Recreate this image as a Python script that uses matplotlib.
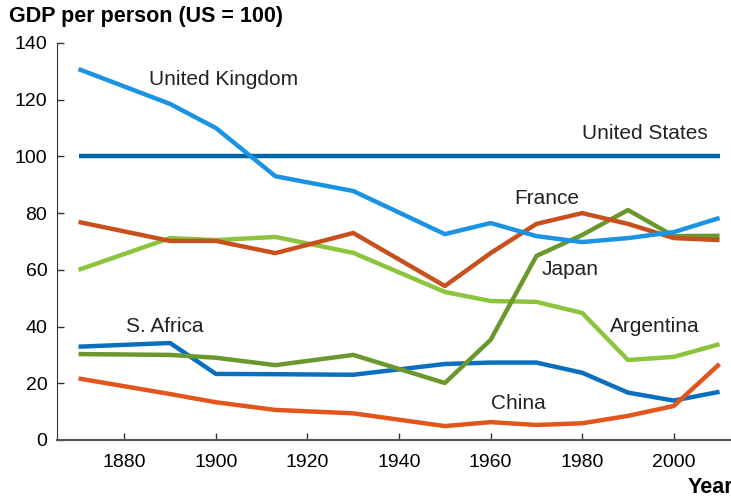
import matplotlib.pyplot as plt

plt.rcParams['font.family'] = ['Liberation Sans', 'DejaVu Sans']

years = [1870, 1890, 1900, 1913, 1930, 1950, 1960, 1970, 1980, 1990, 2000, 2010]
uk = [130.8, 118.5, 110.0, 93.0, 87.8, 72.6, 76.5, 71.9, 69.8, 71.2, 73.3, 78.3]
us = [100] * len(years)
france = [76.9, 70.2, 70.2, 65.9, 73.0, 54.3, 65.9, 76.2, 80.0, 76.2, 71.2, 70.5]
japan = [30.3, 30.0, 29.0, 26.4, 30.0, 20.1, 35.3, 64.9, 72.3, 81.1, 71.9, 72.0]
argentina = [60.0, 71.2, 70.5, 71.6, 66.0, 52.2, 49.0, 48.7, 44.8, 28.2, 29.3, 33.8]
s_africa = [32.9, 34.2, 23.3, 23.2, 23.0, 26.8, 27.3, 27.3, 23.7, 16.7, 13.9, 17.0]
china = [21.7, 16.2, 13.3, 10.6, 9.4, 4.9, 6.3, 5.3, 5.9, 8.5, 12.0, 26.8]

series = [
    ("S. Africa", s_africa, "#0a70bd", (1888.9, 40)),
    ("China", china, "#e2561c", (1966, 12.7)),
    ("Argentina", argentina, "#8cc43e", (1995.9, 40)),
    ("Japan", japan, "#6a982c", (1977.3, 60)),
    ("France", france, "#c8501c", (1972.3, 85)),
    ("United States", us, "#0066aa", (1993.7, 108)),
    ("United Kingdom", uk, "#1a94e2", (1901.6, 127)),
]

fig = plt.figure(figsize=(7.31, 4.98), dpi=100)
ax = fig.add_axes([0.078, 0.1165, 0.922, 0.7972])

for name, vals, col, pos in series:
    ax.plot(years, vals, color=col, lw=3.2, solid_capstyle='butt')
    ax.text(pos[0], pos[1], name, fontsize=15, ha='center', va='center', color='#222222')

ax.set_xlim(1865.3, 2012.5)
ax.set_ylim(0, 140)
ax.set_xticks([1880, 1900, 1920, 1940, 1960, 1980, 2000])
ax.set_yticks(range(0, 141, 20))
ax.tick_params(direction='in', labelsize=14, length=5, width=1, colors='#333333', labelcolor='black')
ax.tick_params(axis='x', pad=10)
ax.tick_params(axis='y', pad=7)
for s in ['top', 'right']:
    ax.spines[s].set_visible(False)
ax.spines['left'].set_color('#333333')
ax.spines['bottom'].set_color('#555555')
ax.spines['bottom'].set_linewidth(1.5)

fig.text(0.012, 0.966, "GDP per person (US = 100)", fontsize=15.5, fontweight='bold', va='center')
fig.text(0.941, 0.022, "Year", fontsize=15.5, fontweight='bold', va='center')

fig.savefig("out.png", dpi=100)
